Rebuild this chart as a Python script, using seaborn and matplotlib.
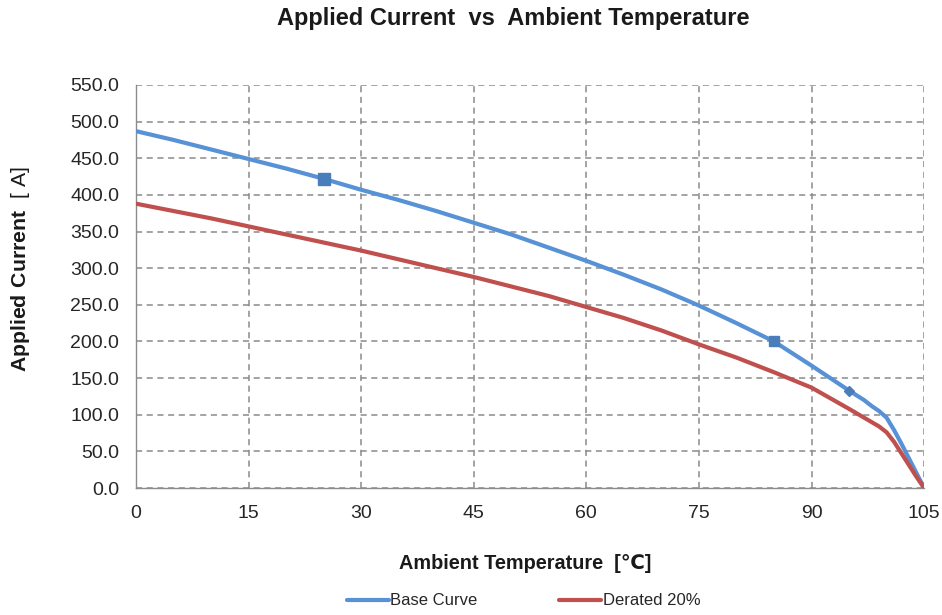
import numpy as np
import pandas as pd
import seaborn as sns
import matplotlib.pyplot as plt
from matplotlib.ticker import FormatStrFormatter
from matplotlib.lines import Line2D

# data
temp = [0, 5, 10, 15, 20, 25, 30, 35, 40, 45, 50, 55, 60, 65, 70, 75, 80, 85, 90, 95,
        97, 98, 99, 100, 101, 102, 103, 104, 105]
base = [487, 475, 462, 449, 436, 422, 407, 393, 378, 362, 346, 328, 310, 291, 271, 249, 225, 200, 167, 133,
        120, 112, 105, 96, 79, 60, 40, 20, 0]
derated = [388, 378, 368, 357, 346, 335, 324, 312, 300, 288, 275, 262, 247, 232, 215, 196, 178, 158, 137, 108,
           96, 90, 84, 76, 63, 47, 31, 15, 0]
# marked points on the base curve
mark_t = [25, 85, 95]
mark_i = [422, 200, 133]

df = pd.DataFrame({
    'temp': temp * 2,
    'current': base + derated,
    'series': ['Base Curve'] * len(temp) + ['Derated 20%'] * len(temp),
})

sns.set_style("white")
plt.rcParams['font.family'] = ['Liberation Sans', 'DejaVu Sans']
plt.rcParams['mathtext.fontset'] = 'custom'
plt.rcParams['mathtext.bf'] = 'Liberation Sans:bold'
plt.rcParams['mathtext.rm'] = 'Liberation Sans'

fig = plt.figure(figsize=(9.42, 6.15), dpi=100)
ax = fig.add_axes([0.1444, 0.2065, 0.8366, 0.6553])

palette = {'Base Curve': '#5791D6', 'Derated 20%': '#BF504D'}
sns.lineplot(data=df, x='temp', y='current', hue='series', palette=palette,
             linewidth=3, ax=ax, legend=False, zorder=3)
ax.plot(mark_t[0], mark_i[0], 's', color='#4A7EBB', markersize=9, zorder=4)
ax.plot(mark_t[1], mark_i[1], 's', color='#4A7EBB', markersize=7.5, zorder=4)
ax.plot(mark_t[2], mark_i[2], 'D', color='#4A7EBB', markersize=5.5, zorder=4)

ax.set_xlim(0, 105)
ax.set_ylim(0, 550)
ax.set_xticks(np.arange(0, 106, 15))
ax.set_yticks(np.arange(0, 551, 50))
ax.yaxis.set_major_formatter(FormatStrFormatter('%.1f'))
ax.grid(True, linestyle=(0, (4, 3)), color='#8a8a8a', linewidth=1.1)
for s in ['top', 'right']:
    ax.spines[s].set_visible(False)
for s in ['left', 'bottom']:
    ax.spines[s].set_color('#8c8c8c')
    ax.spines[s].set_linewidth(1)
ax.tick_params(axis='both', direction='out', length=5, width=1, color='#8c8c8c',
               labelsize=14, labelcolor='#262626')
ax.tick_params(axis='y', pad=7)
ax.tick_params(axis='x', pad=7)
ax.set_xlabel('')
ax.set_ylabel('')

fig.text(0.545, 0.97, 'Applied Current  vs  Ambient Temperature', ha='center', va='center',
         fontsize=17, fontweight='bold', color='#1a1a1a')
fig.text(0.557, 0.084, 'Ambient Temperature  [\u2103]', ha='center', va='center',
         fontsize=14.3, fontweight='bold', color='#1a1a1a')
fig.text(0.022, 0.563, r'$\mathbf{Applied\ Current}$  [ A]', ha='center', va='center',
         rotation=90, fontsize=15.3, color='#1a1a1a')

# legend
handles = [Line2D([], [], color=palette['Base Curve'], linewidth=3),
           Line2D([], [], color=palette['Derated 20%'], linewidth=3)]
fig.legend(handles, ['Base Curve', 'Derated 20%'], loc='center', bbox_to_anchor=(0.556, 0.023),
           ncol=2, frameon=False, fontsize=12, handlelength=2.5, handletextpad=0.1,
           columnspacing=4.9)

fig.savefig('out.png', dpi=100)
